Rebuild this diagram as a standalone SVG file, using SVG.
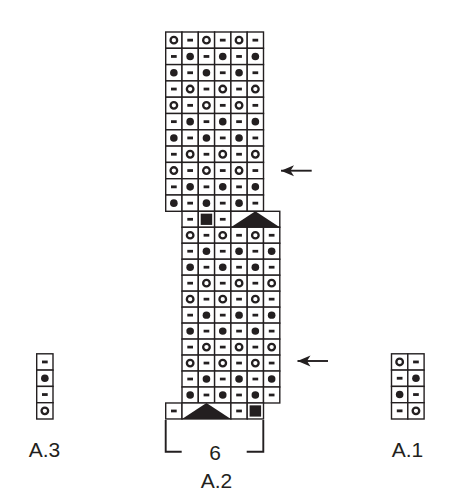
<svg xmlns="http://www.w3.org/2000/svg" width="460" height="500" viewBox="0 0 460 500">
<style>
.c{fill:#fff;stroke:#231f20;stroke-width:1.4}
.k{fill:#231f20}
.oc{fill:none;stroke:#231f20;stroke-width:2.3}
.t{font-family:"Liberation Sans",Arial,sans-serif;font-size:21px;fill:#231f20;text-anchor:middle}
.ln{fill:none;stroke:#231f20;stroke-width:1.9}
</style>
<defs>
<g id="d"><rect class="c" width="16.3" height="16.3"/><rect class="k" x="5.3" y="6.75" width="5.7" height="2.8"/></g>
<g id="f"><rect class="c" width="16.3" height="16.3"/><circle class="k" cx="8.15" cy="8.15" r="3.8"/></g>
<g id="o"><rect class="c" width="16.3" height="16.3"/><circle class="oc" cx="8.15" cy="8.15" r="3.3"/></g>
<g id="s"><rect class="c" width="16.3" height="16.3"/><rect class="k" x="2.4" y="2.4" width="11.5" height="11.5"/></g>
<g id="tri"><rect class="c" width="48.9" height="16.3"/><polygon class="k" points="0,16.3 24.45,0 48.9,16.3"/></g>
<g id="rA"><use href="#o"/><use href="#d" x="16.3"/><use href="#o" x="32.6"/><use href="#d" x="48.9"/><use href="#o" x="65.2"/><use href="#d" x="81.5"/></g>
<g id="rB"><use href="#d"/><use href="#f" x="16.3"/><use href="#d" x="32.6"/><use href="#f" x="48.9"/><use href="#d" x="65.2"/><use href="#f" x="81.5"/></g>
<g id="rC"><use href="#f"/><use href="#d" x="16.3"/><use href="#f" x="32.6"/><use href="#d" x="48.9"/><use href="#f" x="65.2"/><use href="#d" x="81.5"/></g>
<g id="rD"><use href="#d"/><use href="#o" x="16.3"/><use href="#d" x="32.6"/><use href="#o" x="48.9"/><use href="#d" x="65.2"/><use href="#o" x="81.5"/></g>
<marker id="ah" markerUnits="userSpaceOnUse" markerWidth="14" markerHeight="12" viewBox="-13 -6 14 12" refX="0" refY="0" orient="auto" overflow="visible">
<path class="k" d="M0,0 L-13,-5.5 L-9.5,0 L-13,5.5 Z"/>
</marker>
</defs>

<g id="chart-top" transform="translate(165.7,32)">
<use href="#rA" y="0"/>
<use href="#rB" y="16.3"/>
<use href="#rC" y="32.6"/>
<use href="#rD" y="48.9"/>
<use href="#rA" y="65.2"/>
<use href="#rB" y="81.5"/>
<use href="#rC" y="97.8"/>
<use href="#rD" y="114.1"/>
<use href="#rA" y="130.4"/>
<use href="#rB" y="146.7"/>
<use href="#rC" y="163"/>
</g>

<g id="chart-bottom" transform="translate(182,211.3) scale(1,0.98)">
<use href="#d" x="0" y="0"/>
<use href="#s" x="16.3" y="0"/>
<use href="#d" x="32.6" y="0"/>
<use href="#tri" x="48.9" y="0"/>
<use href="#rA" y="16.3"/>
<use href="#rB" y="32.6"/>
<use href="#rC" y="48.9"/>
<use href="#rD" y="65.2"/>
<use href="#rA" y="81.5"/>
<use href="#rB" y="97.8"/>
<use href="#rC" y="114.1"/>
<use href="#rD" y="130.4"/>
<use href="#rA" y="146.7"/>
<use href="#rB" y="163"/>
<use href="#rC" y="179.3"/>
<use href="#d" x="-16.3" y="195.6"/>
<use href="#tri" x="0" y="195.6"/>
<use href="#d" x="48.9" y="195.6"/>
<use href="#s" x="65.2" y="195.6"/>
</g>

<g id="A3">
<g transform="translate(36.7,353.8)">
<use href="#d" y="0"/>
<use href="#f" y="16.3"/>
<use href="#d" y="32.6"/>
<use href="#o" y="48.9"/>
</g>
<text class="t" x="44.5" y="457">A.3</text>
</g>

<g id="A1">
<g transform="translate(391.5,353.8)">
<use href="#o" x="0" y="0"/><use href="#d" x="16.3" y="0"/>
<use href="#d" x="0" y="16.3"/><use href="#f" x="16.3" y="16.3"/>
<use href="#f" x="0" y="32.6"/><use href="#d" x="16.3" y="32.6"/>
<use href="#d" x="0" y="48.9"/><use href="#o" x="16.3" y="48.9"/>
</g>
<text class="t" x="407.5" y="457">A.1</text>
</g>

<g id="A2-label">
<path class="ln" d="M165.7,420 V451.7 H181.7 M246.7,451.7 H263.3 V420"/>
<text class="t" x="215" y="460">6</text>
<text class="t" x="216.5" y="488">A.2</text>
</g>

<g id="connectors">
<path class="ln" d="M311.7,170.7 H281" marker-end="url(#ah)"/>
<path class="ln" d="M328,361 H297.5" marker-end="url(#ah)"/>
</g>
</svg>
